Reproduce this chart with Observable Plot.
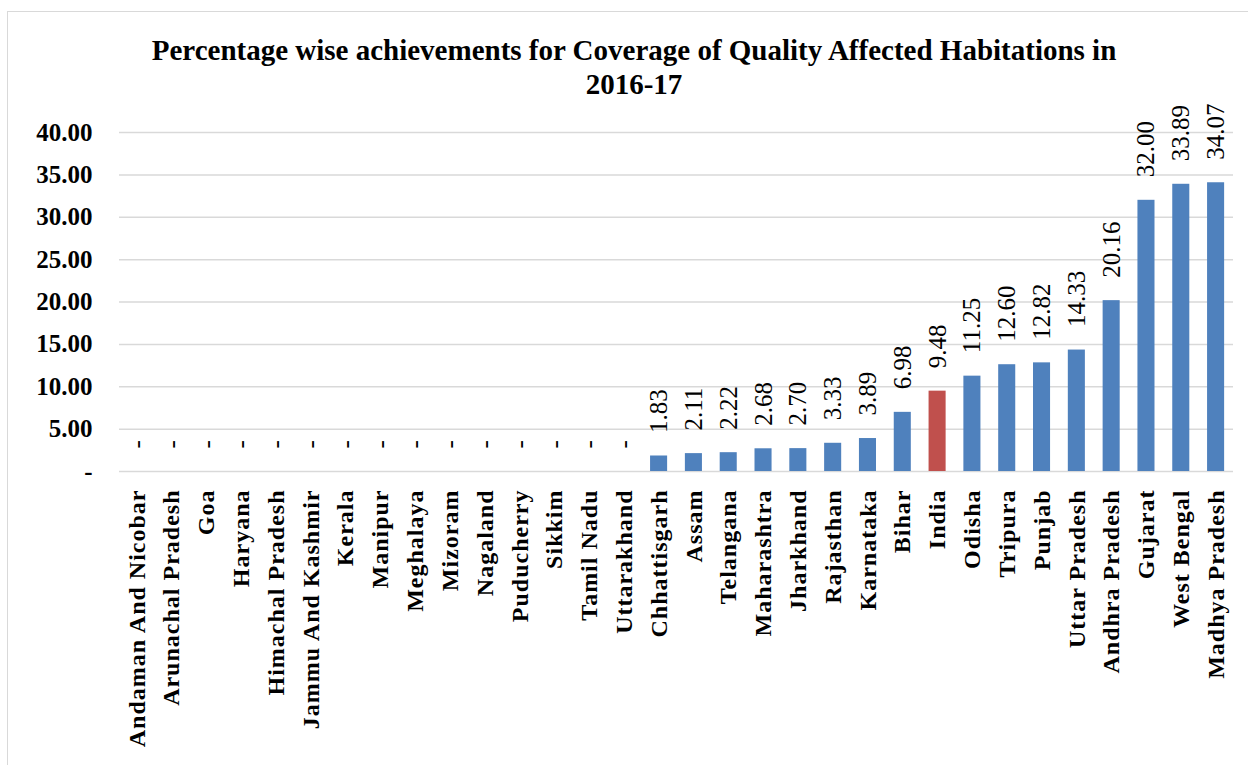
<!DOCTYPE html>
<html>
<head>
<meta charset="utf-8">
<script src="https://cdn.jsdelivr.net/npm/d3@7"></script>
<script src="https://cdn.jsdelivr.net/npm/@observablehq/plot@0.6"></script>
<style>
  html, body { margin: 0; padding: 0; background: #fff; }
  #wrap { position: relative; width: 1248px; height: 765px; overflow: hidden; background: #fff; }
  #frame { position: absolute; left: 7px; top: 11px; width: 1260px; height: 800px; border: 1.5px solid #d9d9d9; box-sizing: border-box; }
  #title { position: absolute; left: 0; width: 1268px; top: 33px; text-align: center;
    font-family: "Liberation Serif", serif; font-weight: bold; font-size: 29px; line-height: 34px; color: #000; }
  #chart { position: absolute; left: 0; top: 0; }
  g[aria-label="x-axis tick label"] text { letter-spacing: 1px; }
</style>
</head>
<body>
<div id="wrap">
  <div id="frame"></div>
  <div id="chart"></div>
  <div id="title">Percentage wise achievements for Coverage of Quality Affected Habitations in<br>2016-17</div>
</div>
<script>
const states = [
  "Andaman And Nicobar", "Arunachal Pradesh", "Goa", "Haryana", "Himachal Pradesh",
  "Jammu And Kashmir", "Kerala", "Manipur", "Meghalaya", "Mizoram", "Nagaland",
  "Puducherry", "Sikkim", "Tamil Nadu", "Uttarakhand", "Chhattisgarh", "Assam",
  "Telangana", "Maharashtra", "Jharkhand", "Rajasthan", "Karnataka", "Bihar", "India",
  "Odisha", "Tripura", "Punjab", "Uttar Pradesh", "Andhra Pradesh", "Gujarat",
  "West Bengal", "Madhya Pradesh"
];
const values = [
  0, 0, 0, 0, 0, 0, 0, 0, 0, 0, 0, 0, 0, 0, 0,
  1.83, 2.11, 2.22, 2.68, 2.70, 3.33, 3.89, 6.98, 9.48,
  11.25, 12.60, 12.82, 14.33, 20.16, 32.00, 33.89, 34.07
];
const yTicks = [0, 5, 10, 15, 20, 25, 30, 35, 40];
const highlight = "India";

const data = states.map((s, i) => ({state: s, value: values[i]}));
const fmt = v => v === 0 ? "-" : v.toFixed(2);
const blue = "#4F81BD", red = "#C0504D";
const serif = "Liberation Serif, Times New Roman, serif";

const chart = Plot.plot({
  width: 1248,
  height: 765,
  marginTop: 132,
  marginBottom: 294,
  marginLeft: 119,
  marginRight: 15,
  style: {fontFamily: serif, color: "#000", background: "transparent"},
  x: {domain: states, paddingInner: 0.51, paddingOuter: 0.255, round: false, label: null},
  y: {domain: [0, 40], label: null},
  marks: [
    Plot.ruleY(yTicks, {stroke: "#d9d9d9", strokeWidth: 1.5}),
    Plot.barY(data, {x: "state", y: "value", fill: d => d.state === highlight ? red : blue}),
    Plot.text(data, {
      x: "state", y: "value", text: d => fmt(d.value),
      rotate: -90, textAnchor: "start", dy: -23,
      fontSize: 25, fontFamily: serif, fill: "#000"
    }),
    Plot.axisY(yTicks, {
      tickSize: 0, tickPadding: 27, tickFormat: fmt,
      fontSize: 25, fontWeight: "bold", fontFamily: serif, label: null
    }),
    Plot.axisX({
      tickSize: 0, tickPadding: 18, tickRotate: -90,
      fontSize: 24, fontWeight: "bold", fontFamily: serif, label: null
    })
  ]
});
document.getElementById("chart").appendChild(chart);
</script>
</body>
</html>
